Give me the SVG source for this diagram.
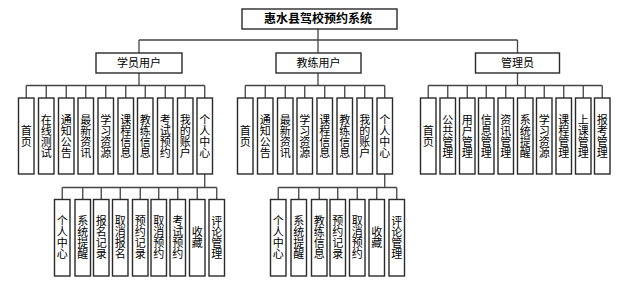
<svg xmlns="http://www.w3.org/2000/svg" width="622" height="284" viewBox="0 0 622 284">
<style>
.b{fill:#fff;stroke:#2a2a2a;stroke-width:1.4}
.c{fill:none;stroke:#444;stroke-width:1.3}
.t{font-family:"Noto Sans CJK SC","Liberation Sans",sans-serif;font-size:11px;fill:#000;text-anchor:middle}
.v{font-family:"Noto Sans CJK SC","Liberation Sans",sans-serif;font-size:11px;fill:#000;text-anchor:middle;writing-mode:vertical-rl}
.h{font-family:"Noto Sans CJK SC","Liberation Sans",sans-serif;font-size:12px;font-weight:bold;fill:#000;text-anchor:middle}
</style>
<rect width="622" height="284" fill="#fff"/>
<g id="connectors" class="c">
<path d="M318 29V40M139 40H517.5M139 40V53M318 40V53M517.5 40V53"/>
<path d="M139 73V85.5M26.25 85.5H204.75M26.25 85.5V98M46.25 85.5V98M66.25 85.5V98M85.75 85.5V98M105.75 85.5V98M125.75 85.5V98M145.25 85.5V98M165.25 85.5V98M185.25 85.5V98M204.75 85.5V98"/>
<path d="M318 73V85.5M245.25 85.5H384.75M245.25 85.5V98M265.25 85.5V98M285.25 85.5V98M304.75 85.5V98M324.75 85.5V98M344.75 85.5V98M364.75 85.5V98M384.75 85.5V98"/>
<path d="M517.5 73V85.5M428.25 85.5H602.25M428.25 85.5V98M447.75 85.5V98M467.25 85.5V98M486.25 85.5V98M505.75 85.5V98M525.25 85.5V98M544.25 85.5V98M563.75 85.5V98M583.25 85.5V98M602.25 85.5V98"/>
<path d="M204.75 174V187.5M62.25 187.5H216.75M62.25 187.5V199.5M82.75 187.5V199.5M101.25 187.5V199.5M120.25 187.5V199.5M140.25 187.5V199.5M158.75 187.5V199.5M177.75 187.5V199.5M197.25 187.5V199.5M216.75 187.5V199.5"/>
<path d="M384.75 174V187.5M278.25 187.5H396.75M278.25 187.5V199.5M298.75 187.5V199.5M319.25 187.5V199.5M337.75 187.5V199.5M357.25 187.5V199.5M376.75 187.5V199.5M396.75 187.5V199.5"/>
</g>
<g id="root"><rect class="b" x="242" y="9" width="155" height="20"/><text class="h" x="318" y="23.3">惠水县驾校预约系统</text></g>
<g id="student"><rect class="b" x="96" y="53" width="86" height="20"/><text class="t" x="139" y="66.8">学员用户</text></g>
<g id="coach"><rect class="b" x="276" y="53" width="85" height="20"/><text class="t" x="318.5" y="66.8">教练用户</text></g>
<g id="admin"><rect class="b" x="475.5" y="53" width="84" height="20"/><text class="t" x="517.5" y="66.8">管理员</text></g>

<g id="s1"><rect class="b" x="18.5" y="98" width="15.5" height="76"/><text class="v" x="26.25" y="136">首页</text></g>
<g id="s2"><rect class="b" x="38.5" y="98" width="15.5" height="76"/><text class="v" x="46.25" y="136">在线测试</text></g>
<g id="s3"><rect class="b" x="58.5" y="98" width="15.5" height="76"/><text class="v" x="66.25" y="136">通知公告</text></g>
<g id="s4"><rect class="b" x="78" y="98" width="15.5" height="76"/><text class="v" x="85.75" y="136">最新资讯</text></g>
<g id="s5"><rect class="b" x="98" y="98" width="15.5" height="76"/><text class="v" x="105.75" y="136">学习资源</text></g>
<g id="s6"><rect class="b" x="118" y="98" width="15.5" height="76"/><text class="v" x="125.75" y="136">课程信息</text></g>
<g id="s7"><rect class="b" x="137.5" y="98" width="15.5" height="76"/><text class="v" x="145.25" y="136">教练信息</text></g>
<g id="s8"><rect class="b" x="157.5" y="98" width="15.5" height="76"/><text class="v" x="165.25" y="136">考试预约</text></g>
<g id="s9"><rect class="b" x="177.5" y="98" width="15.5" height="76"/><text class="v" x="185.25" y="136">我的账户</text></g>
<g id="s10"><rect class="b" x="197" y="98" width="15.5" height="76"/><text class="v" x="204.75" y="136">个人中心</text></g>

<g id="c1"><rect class="b" x="237.5" y="98" width="15.5" height="76"/><text class="v" x="245.25" y="136">首页</text></g>
<g id="c2"><rect class="b" x="257.5" y="98" width="15.5" height="76"/><text class="v" x="265.25" y="136">通知公告</text></g>
<g id="c3"><rect class="b" x="277.5" y="98" width="15.5" height="76"/><text class="v" x="285.25" y="136">最新资讯</text></g>
<g id="c4"><rect class="b" x="297" y="98" width="15.5" height="76"/><text class="v" x="304.75" y="136">学习资源</text></g>
<g id="c5"><rect class="b" x="317" y="98" width="15.5" height="76"/><text class="v" x="324.75" y="136">课程信息</text></g>
<g id="c6"><rect class="b" x="337" y="98" width="15.5" height="76"/><text class="v" x="344.75" y="136">教练信息</text></g>
<g id="c7"><rect class="b" x="357" y="98" width="15.5" height="76"/><text class="v" x="364.75" y="136">我的账户</text></g>
<g id="c8"><rect class="b" x="377" y="98" width="15.5" height="76"/><text class="v" x="384.75" y="136">个人中心</text></g>

<g id="a1"><rect class="b" x="420.5" y="98" width="15.5" height="76"/><text class="v" x="428.25" y="136">首页</text></g>
<g id="a2"><rect class="b" x="440" y="98" width="15.5" height="76"/><text class="v" x="447.75" y="136">公共管理</text></g>
<g id="a3"><rect class="b" x="459.5" y="98" width="15.5" height="76"/><text class="v" x="467.25" y="136">用户管理</text></g>
<g id="a4"><rect class="b" x="478.5" y="98" width="15.5" height="76"/><text class="v" x="486.25" y="136">信息管理</text></g>
<g id="a5"><rect class="b" x="498" y="98" width="15.5" height="76"/><text class="v" x="505.75" y="136">资讯管理</text></g>
<g id="a6"><rect class="b" x="517.5" y="98" width="15.5" height="76"/><text class="v" x="525.25" y="136">系统提醒</text></g>
<g id="a7"><rect class="b" x="536.5" y="98" width="15.5" height="76"/><text class="v" x="544.25" y="136">学习资源</text></g>
<g id="a8"><rect class="b" x="556" y="98" width="15.5" height="76"/><text class="v" x="563.75" y="136">课程管理</text></g>
<g id="a9"><rect class="b" x="575.5" y="98" width="15.5" height="76"/><text class="v" x="583.25" y="136">上课管理</text></g>
<g id="a10"><rect class="b" x="594.5" y="98" width="15.5" height="76"/><text class="v" x="602.25" y="136">报考管理</text></g>

<g id="sp1"><rect class="b" x="54.5" y="199.5" width="15.5" height="76.5"/><text class="v" x="62.25" y="237.75">个人中心</text></g>
<g id="sp2"><rect class="b" x="75" y="199.5" width="15.5" height="76.5"/><text class="v" x="82.75" y="237.75">系统提醒</text></g>
<g id="sp3"><rect class="b" x="93.5" y="199.5" width="15.5" height="76.5"/><text class="v" x="101.25" y="237.75">报名记录</text></g>
<g id="sp4"><rect class="b" x="112.5" y="199.5" width="15.5" height="76.5"/><text class="v" x="120.25" y="237.75">取消报名</text></g>
<g id="sp5"><rect class="b" x="132.5" y="199.5" width="15.5" height="76.5"/><text class="v" x="140.25" y="237.75">预约记录</text></g>
<g id="sp6"><rect class="b" x="151" y="199.5" width="15.5" height="76.5"/><text class="v" x="158.75" y="237.75">取消预约</text></g>
<g id="sp7"><rect class="b" x="170" y="199.5" width="15.5" height="76.5"/><text class="v" x="177.75" y="237.75">考试预约</text></g>
<g id="sp8"><rect class="b" x="189.5" y="199.5" width="15.5" height="76.5"/><text class="v" x="197.25" y="237.75">收藏</text></g>
<g id="sp9"><rect class="b" x="209" y="199.5" width="15.5" height="76.5"/><text class="v" x="216.75" y="237.75">评论管理</text></g>

<g id="cp1"><rect class="b" x="270.5" y="199.5" width="15.5" height="76.5"/><text class="v" x="278.25" y="237.75">个人中心</text></g>
<g id="cp2"><rect class="b" x="291" y="199.5" width="15.5" height="76.5"/><text class="v" x="298.75" y="237.75">系统提醒</text></g>
<g id="cp3"><rect class="b" x="311.5" y="199.5" width="15.5" height="76.5"/><text class="v" x="319.25" y="237.75">教练信息</text></g>
<g id="cp4"><rect class="b" x="330" y="199.5" width="15.5" height="76.5"/><text class="v" x="337.75" y="237.75">预约记录</text></g>
<g id="cp5"><rect class="b" x="349.5" y="199.5" width="15.5" height="76.5"/><text class="v" x="357.25" y="237.75">取消预约</text></g>
<g id="cp6"><rect class="b" x="369" y="199.5" width="15.5" height="76.5"/><text class="v" x="376.75" y="237.75">收藏</text></g>
<g id="cp7"><rect class="b" x="389" y="199.5" width="15.5" height="76.5"/><text class="v" x="396.75" y="237.75">评论管理</text></g>
</svg>
